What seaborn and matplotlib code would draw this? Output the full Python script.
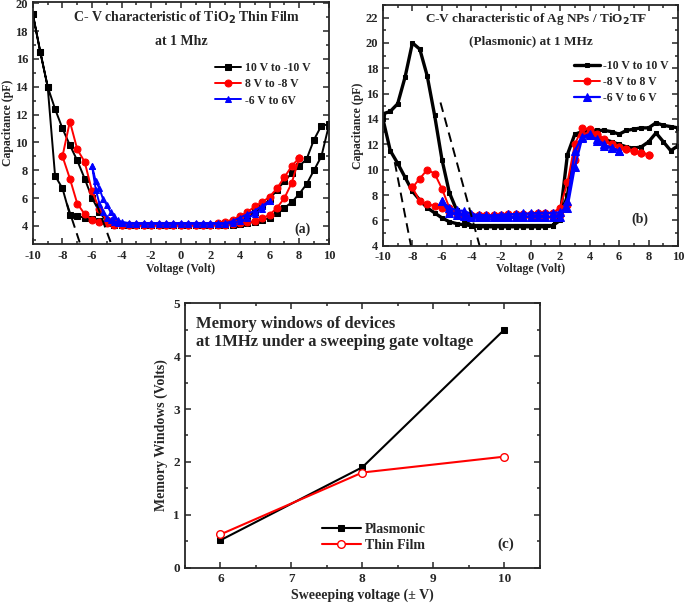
import matplotlib
matplotlib.use("Agg")
import matplotlib.pyplot as plt
import seaborn as sns
import pandas as pd
from matplotlib.ticker import MultipleLocator

sns.set_style("ticks")
plt.rcParams['font.family'] = ['Liberation Serif', 'DejaVu Serif']
plt.rcParams['font.weight'] = 'bold'
plt.rcParams['mathtext.default'] = 'bf'
plt.rcParams['axes.unicode_minus'] = False

# ---------------- data: panel (a) TiO2 thin film ----------------
v10 = [-10, -9.5, -9, -8.5, -8, -7.5, -7, -6.5, -6, -5.5, -5, -4.5, -4, -3.5, -3, -2.5, -2, -1.5, -1, -0.5,
       0, 0.5, 1, 1.5, 2, 2.5, 3, 3.5, 4, 4.5, 5, 5.5, 6, 6.5, 7, 7.5, 8, 8.5, 9, 9.5, 10]
a_black_up = [19.2, 16.5, 14.0, 12.4, 11.0, 9.8, 8.7, 7.4, 6.0, 5.0, 4.3, 4.15, 4.1, 4.1, 4.1, 4.1, 4.1, 4.1, 4.1, 4.1,
              4.1, 4.1, 4.1, 4.1, 4.1, 4.15, 4.2, 4.3, 4.45, 4.7, 5.0, 5.4, 5.9, 6.6, 7.2, 7.8, 8.3, 8.8, 10.2, 11.2, 11.3]
a_black_dn = [19.2, 16.5, 14.0, 7.6, 6.7, 4.8, 4.7, 4.6, 4.5, 4.35, 4.2, 4.1, 4.1, 4.1, 4.1, 4.1, 4.1, 4.1, 4.1, 4.1,
              4.1, 4.1, 4.1, 4.1, 4.1, 4.1, 4.1, 4.1, 4.15, 4.2, 4.3, 4.4, 4.6, 4.9, 5.3, 5.7, 6.3, 7.0, 8.0, 9.0, 11.2]

v8 = [-8, -7.5, -7, -6.5, -6, -5.5, -5, -4.5, -4, -3.5, -3, -2.5, -2, -1.5, -1, -0.5,
      0, 0.5, 1, 1.5, 2, 2.5, 3, 3.5, 4, 4.5, 5, 5.5, 6, 6.5, 7, 7.5, 8]
a_red_up = [9.0, 11.5, 9.5, 8.6, 6.5, 5.2, 4.4, 4.2, 4.1, 4.1, 4.1, 4.1, 4.1, 4.1, 4.1, 4.1,
            4.1, 4.1, 4.1, 4.1, 4.1, 4.2, 4.3, 4.45, 4.7, 5.0, 5.4, 5.7, 6.1, 6.7, 7.5, 8.3, 8.9]
a_red_dn = [9.0, 7.4, 5.6, 4.85, 4.4, 4.3, 4.2, 4.1, 4.1, 4.1, 4.1, 4.1, 4.1, 4.1, 4.1, 4.1,
            4.1, 4.1, 4.1, 4.1, 4.1, 4.1, 4.1, 4.15, 4.2, 4.25, 4.35, 4.55, 4.8, 5.3, 6.0, 7.1, 8.9]

v6a = [-6, -5.75, -5.5, -5.25, -5, -4.75, -4.5, -4.25, -4, -3.5, -3, -2.5, -2, -1.5, -1, -0.5,
       0, 0.5, 1, 1.5, 2, 2.5, 3, 3.5, 4, 4.5, 5, 5.5, 6]
a_blue_up = [8.3, 7.2, 6.7, 5.9, 5.5, 5.0, 4.7, 4.4, 4.3, 4.2, 4.2, 4.2, 4.2, 4.2, 4.2, 4.2,
             4.2, 4.2, 4.2, 4.2, 4.2, 4.2, 4.2, 4.35, 4.6, 4.85, 5.1, 5.45, 5.8]
a_blue_dn = [8.3, 6.6, 5.6, 5.0, 4.6, 4.4, 4.3, 4.2, 4.2, 4.15, 4.15, 4.15, 4.15, 4.15, 4.15, 4.15,
             4.15, 4.15, 4.15, 4.15, 4.15, 4.15, 4.15, 4.2, 4.35, 4.55, 4.85, 5.25, 5.8]

a_dash1_v, a_dash1_c = [-7.7, -6.8], [5.6, 2.7]
a_dash2_v, a_dash2_c = [-5.7, -4.7], [5.6, 2.7]

# ---------------- data: panel (b) Ag NPs / TiO2 ----------------
b_black_up = [14.4, 14.6, 15.2, 17.3, 20.0, 19.5, 17.4, 14.3, 10.8, 8.2, 6.8, 6.0, 5.6, 5.5, 5.5, 5.5, 5.5, 5.5, 5.5, 5.5,
              5.5, 5.5, 5.5, 5.6, 6.3, 11.2, 12.8, 13.0, 13.1, 13.1, 13.1, 13.0, 12.8, 13.1, 13.2, 13.3, 13.3, 13.7, 13.5, 13.4, 13.3]
b_black_dn = [14.0, 11.5, 10.5, 9.4, 8.3, 7.6, 7.0, 6.6, 6.2, 5.9, 5.75, 5.65, 5.6, 5.6, 5.6, 5.6, 5.6, 5.6, 5.6, 5.6,
              5.6, 5.6, 5.6, 5.6, 6.0, 8.0, 11.5, 12.5, 12.8, 12.6, 12.4, 12.2, 12.0, 11.8, 11.7, 11.8, 12.2, 12.9, 12.2, 11.5, 11.9]

b_red_up = [8.6, 9.3, 10.0, 9.7, 8.5, 7.0, 6.6, 6.4, 6.4, 6.4, 6.4, 6.45, 6.45, 6.5, 6.5, 6.5,
            6.5, 6.55, 6.55, 6.6, 7.0, 9.0, 12.0, 13.3, 13.2, 12.8, 12.4, 12.0, 11.8, 11.6, 11.5, 11.35, 11.2]
b_red_dn = [8.6, 7.5, 7.3, 7.15, 6.95, 6.7, 6.5, 6.35, 6.3, 6.25, 6.25, 6.25, 6.25, 6.25, 6.25, 6.25,
            6.25, 6.25, 6.25, 6.25, 6.4, 7.2, 10.8, 12.7, 13.0, 12.7, 12.3, 12.0, 11.8, 11.6, 11.45, 11.3, 11.2]

v6b = [-6, -5.5, -5, -4.5, -4, -3.5, -3, -2.5, -2, -1.5, -1, -0.5, 0, 0.5, 1, 1.5, 2, 2.5, 3, 3.5, 4, 4.5, 5, 5.5, 6]
b_blue_up = [7.5, 7.0, 6.8, 6.75, 6.5, 6.45, 6.4, 6.4, 6.45, 6.5, 6.5, 6.55, 6.55, 6.6, 6.6, 6.6, 6.65,
             7.0, 10.2, 12.5, 12.7, 12.4, 12.0, 11.7, 11.5]
b_blue_dn = [7.5, 6.6, 6.45, 6.35, 6.3, 6.3, 6.3, 6.3, 6.3, 6.3, 6.3, 6.3, 6.3, 6.3, 6.3, 6.3, 6.3,
             7.5, 11.5, 12.6, 12.8, 12.3, 11.9, 11.7, 11.5]

b_dash1_v, b_dash1_c = [-9.2, -8.1], [10.6, 4.0]
b_dash2_v, b_dash2_c = [-6.1, -3.45], [15.3, 4.0]

# ---------------- data: panel (c) memory windows ----------------
sweep = [6, 8, 10]
mw_plasmonic = [0.52, 1.9, 4.5]
mw_thinfilm = [0.63, 1.8, 2.1]


def loop(v, up, dn):
    # one closed hysteresis loop: forward branch then the return branch
    return pd.DataFrame({"V": v + v[::-1], "C": up + dn[::-1]})


def style_axis(ax, xmaj, xmin, ymaj, ymin, size):
    ax.xaxis.set_major_locator(MultipleLocator(xmaj))
    ax.xaxis.set_minor_locator(MultipleLocator(xmin))
    ax.yaxis.set_major_locator(MultipleLocator(ymaj))
    ax.yaxis.set_minor_locator(MultipleLocator(ymin))
    ax.tick_params(which='both', direction='in', top=True, right=True, labelsize=size, width=1.1)
    ax.tick_params(which='major', length=4)
    ax.tick_params(which='minor', length=2)
    ax.tick_params(axis='x', pad=4)
    for s in ax.spines.values():
        s.set_linewidth(1.3)
        s.set_visible(True)
    for lab in ax.get_xticklabels() + ax.get_yticklabels():
        lab.set_fontweight('bold')


fig = plt.figure(figsize=(6.85, 6.04), dpi=100)

# --- (a) ---
ax1 = fig.add_axes([0.048, 0.596, 0.432, 0.401])
sns.lineplot(data=loop(v10, a_black_up, a_black_dn), x="V", y="C", sort=False, estimator=None, ax=ax1,
             color='black', lw=1.4, marker='s', markersize=4.5, markeredgecolor='black', label='10 V to -10 V')
sns.lineplot(data=loop(v8, a_red_up, a_red_dn), x="V", y="C", sort=False, estimator=None, ax=ax1,
             color='red', lw=1.4, marker='o', markersize=5, markeredgecolor='red', label='8 V to -8 V')
sns.lineplot(data=loop(v6a, a_blue_up, a_blue_dn), x="V", y="C", sort=False, estimator=None, ax=ax1,
             color='blue', lw=1.4, marker='^', markersize=5, markeredgecolor='blue', label='-6 V to 6V')
sns.lineplot(x=a_dash1_v, y=a_dash1_c, ax=ax1, color='black', lw=1.4, linestyle=(0, (5, 3)))
sns.lineplot(x=a_dash2_v, y=a_dash2_c, ax=ax1, color='black', lw=1.4, linestyle=(0, (5, 3)))
ax1.set_xlim(-10, 10)
ax1.set_ylim(2.7, 20.1)
style_axis(ax1, 2, 1, 2, 1, 9)
ax1.set_xlabel("Voltage (Volt)", fontsize=8.5, fontweight='bold', labelpad=1)
ax1.set_ylabel("Capacitance (pF)", fontsize=8.5, fontweight='bold', labelpad=1)
ax1.text(0.52, 0.935, "C- V characteristic of TiO$_2$ Thin Film", transform=ax1.transAxes,
         ha='center', va='center', fontsize=10, fontweight='bold')
ax1.text(0.50, 0.835, "at 1 Mhz", transform=ax1.transAxes, ha='center', va='center', fontsize=10, fontweight='bold')
ax1.text(0.91, 0.06, "(a)", transform=ax1.transAxes, ha='center', va='center', fontsize=10, fontweight='bold')
h, l = ax1.get_legend_handles_labels()
ax1.legend(h[:3], l[:3], loc='upper left', bbox_to_anchor=(0.6, 0.77), frameon=False,
           handlelength=2.2, handletextpad=0.3, labelspacing=0.35, borderaxespad=0,
           prop={'weight': 'bold', 'size': 8.5})

# --- (b) ---
ax2 = fig.add_axes([0.559, 0.593, 0.431, 0.399])
sns.lineplot(data=loop(v10, b_black_up, b_black_dn), x="V", y="C", sort=False, estimator=None, ax=ax2,
             color='black', lw=2.4, marker='s', markersize=3.5, markeredgecolor='black', label='-10 V to 10 V')
sns.lineplot(data=loop(v8, b_red_up, b_red_dn), x="V", y="C", sort=False, estimator=None, ax=ax2,
             color='red', lw=1.4, marker='o', markersize=5, markeredgecolor='red', label='-8 V to 8 V')
sns.lineplot(data=loop(v6b, b_blue_up, b_blue_dn), x="V", y="C", sort=False, estimator=None, ax=ax2,
             color='blue', lw=1.6, marker='^', markersize=5.5, markeredgecolor='blue', label='-6 V to 6 V')
sns.lineplot(x=b_dash1_v, y=b_dash1_c, ax=ax2, color='black', lw=1.4, linestyle=(0, (5, 3)))
sns.lineplot(x=b_dash2_v, y=b_dash2_c, ax=ax2, color='black', lw=1.4, linestyle=(0, (5, 3)))
ax2.set_xlim(-10, 10)
ax2.set_ylim(4, 23)
style_axis(ax2, 2, 1, 2, 1, 9)
ax2.set_xlabel("Voltage (Volt)", fontsize=8.5, fontweight='bold', labelpad=0)
ax2.set_ylabel("Capacitance (pF)", fontsize=8.5, fontweight='bold', labelpad=1)
ax2.text(0.52, 0.94, "C-V characteristic of Ag NPs / TiO$_2$TF", transform=ax2.transAxes,
         ha='center', va='center', fontsize=9.5, fontweight='bold')
ax2.text(0.50, 0.85, "(Plasmonic) at 1 MHz", transform=ax2.transAxes, ha='center', va='center',
         fontsize=9.5, fontweight='bold')
ax2.text(0.87, 0.11, "(b)", transform=ax2.transAxes, ha='center', va='center', fontsize=10, fontweight='bold')
h, l = ax2.get_legend_handles_labels()
ax2.legend(h[:3], l[:3], loc='upper left', bbox_to_anchor=(0.63, 0.79), frameon=False,
           handlelength=2.2, handletextpad=0.3, labelspacing=0.35, borderaxespad=0,
           prop={'weight': 'bold', 'size': 8.5})

# --- (c) ---
ax3 = fig.add_axes([0.270, 0.060, 0.518, 0.438])
sns.lineplot(x=sweep, y=mw_plasmonic, ax=ax3, color='black', lw=1.5, marker='s', markersize=5,
             markeredgecolor='black', label='Plasmonic')
sns.lineplot(x=sweep, y=mw_thinfilm, ax=ax3, color='red', lw=1.5, marker='o', markersize=5.5,
             markerfacecolor='white', markeredgecolor='red', markeredgewidth=1, label='Thin Film')
ax3.set_xlim(5.5, 10.5)
ax3.set_ylim(0, 5)
style_axis(ax3, 1, 0.5, 1, 0.5, 9.5)
ax3.set_xlabel("Sweeeping voltage (± V)", fontsize=10, fontweight='bold', labelpad=2)
ax3.set_ylabel("Memory Windows (Volts)", fontsize=10, fontweight='bold', labelpad=4)
ax3.text(0.03, 0.95, "Memory windows of devices\nat 1MHz under a sweeping gate voltage", transform=ax3.transAxes,
         ha='left', va='top', fontsize=12, fontweight='bold', linespacing=1.15)
ax3.text(0.905, 0.087, "(c)", transform=ax3.transAxes, ha='center', va='center', fontsize=11, fontweight='bold')
ax3.legend(loc='upper left', bbox_to_anchor=(0.37, 0.19), frameon=False,
           handlelength=2.8, handletextpad=0.3, labelspacing=0.2, borderaxespad=0,
           prop={'weight': 'bold', 'size': 10})

fig.savefig("out.png", dpi=100)
